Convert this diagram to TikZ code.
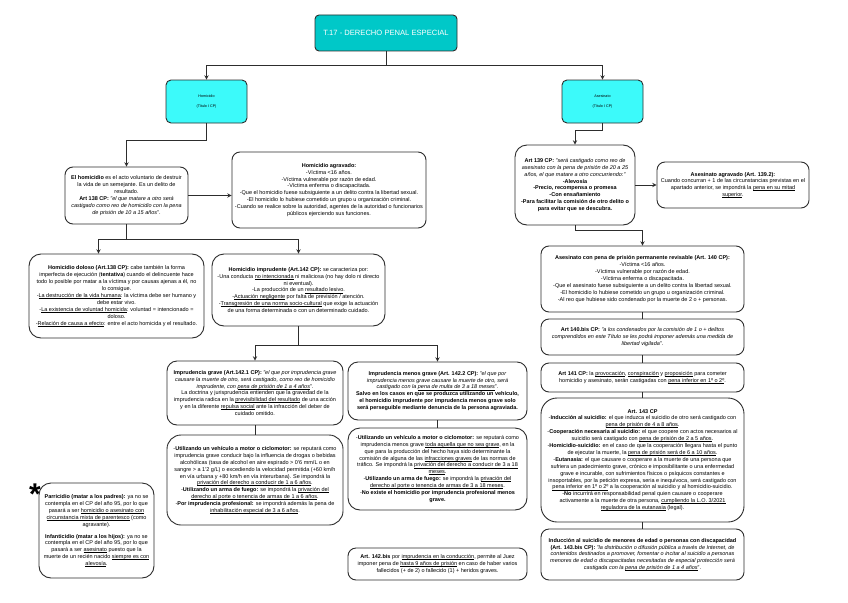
\documentclass[tikz,border=0pt]{standalone}
\usepackage{fontspec}
\setmainfont{Liberation Sans}
\usepackage{xcolor}
\usepackage{tikz}
\usetikzlibrary{arrows, calc}
\definecolor{titleteal}{RGB}{0,200,200}
\definecolor{topiccyan}{RGB}{60,250,250}
\definecolor{edgegray}{RGB}{45,45,45}
\newcommand{\txt}{\fontsize{5.5}{6.9}\selectfont}
% underline that follows the small text size
\newcommand{\ulin}[1]{\setbox0=\hbox{#1}\rlap{\rule[-0.9pt]{\wd0}{0.35pt}}\box0\relax}
\tikzstyle{note} = [rectangle, rounded corners=8pt, draw=edgegray, line width=0.9pt, fill=white, align=center, inner sep=1pt, font=\txt]
\tikzstyle{topic} = [rectangle, rounded corners=5pt, draw=edgegray, line width=0.9pt, fill=topiccyan, align=center, font=\fontsize{3.7}{10}\selectfont]
\tikzstyle{arrow} = [line width=0.9pt, draw=edgegray, ->, >=stealth]
\tikzstyle{link} = [line width=0.9pt, draw=edgegray]

\begin{document}
\begin{tikzpicture}[x=1pt, y=-1pt]
  \useasboundingbox[fill=white] (0,0) rectangle (848,602);

  % Title and topics
  \node (titulo) [topic, fill=titleteal, rounded corners=4pt, text=white, minimum width=142pt, minimum height=36pt, font=\fontsize{7.6}{9}\selectfont] at (386,33) {T.17 - DERECHO PENAL ESPECIAL};
  \node (homicidio) [topic, minimum width=81pt, minimum height=43pt] at (206.5,101.5) {Homicidio\\(Título I CP)};
  \node (asesinato) [topic, minimum width=81pt, minimum height=43pt] at (602.5,101.5) {Asesinato\\(Título I CP)};

  % Homicidio
  \node (definicion) [note, minimum width=123pt, minimum height=57pt] at (126.5,195.5) {\textbf{El homicidio} es el acto voluntario de destruir\\
    la vida de un semejante. Es un delito de\\
    resultado.\\
    \textbf{Art 138 CP:} \textit{"el que matare a otro será}\\
    \textit{castigado como reo de homicidio con la pena}\\
    \textit{de prisión de 10 a 15 años}".};
  \node (agravado) [note, minimum width=194pt, minimum height=76pt] at (329,190) {\textbf{Homicidio agravado:}\\
    -Víctima <16 años.\\
    -Víctima vulnerable por razón de edad.\\
    -Víctima enferma o discapacitada.\\
    -Que el homicidio fuese subsiguiente a un delito contra la libertad sexual.\\
    -El homicidio lo hubiese cometido un grupo u organización criminal.\\
    -Cuando se realice sobre la autoridad, agentes de la autoridad o funcionarios\\
    públicos ejerciendo sus funciones.};
  \node (doloso) [note, rounded corners=12pt, minimum width=175pt, minimum height=84pt] at (116.5,296) {\textbf{Homicidio doloso (Art.138 CP):} cabe también la forma\\
    imperfecta de ejecución (\textbf{tentativa}) cuando el delincuente hace\\
    todo lo posible por matar a la víctima y por causas ajenas a él, no\\
    lo consigue.\\
    -\ulin{La destrucción de la vida humana}: la víctima debe ser humano y\\
    debe estar vivo.\\
    -\ulin{La existencia de voluntad homicida}: voluntad = intencionado =\\
    doloso.\\
    -\ulin{Relación de causa a efecto}: entre el acto homicida y el resultado.};
  \node (imprudente) [note, rounded corners=12pt, minimum width=173pt, minimum height=72pt] at (298.5,290) {\textbf{Homicidio imprudente (Art.142 CP):} se caracteriza por:\\
    -Una conducta \ulin{no intencionada} ni maliciosa (no hay dolo ni directo\\
    ni eventual).\\
    -La producción de un \ulin{resultado lesivo}.\\
    -\ulin{Actuación negligente} por falta de previsión / atención.\\
    -\ulin{Transgresión de una norma socio-cultural} que exige la actuación\\
    de una forma determinada o con un determinado cuidado.};
  \node (grave) [note, rounded corners=10pt, minimum width=176pt, minimum height=64pt] at (255,393) {\textbf{Imprudencia grave (Art.142.1 CP):} \textit{"el que por imprudencia grave}\\
    \textit{causare la muerte de otro, será castigado, como reo de homicidio}\\
    \textit{imprudente, con \ulin{pena de prisión de 1 a 4 años}}".\\
    La doctrina y jurisprudencia entienden que la gravedad de la\\
    imprudencia radica en la \ulin{previsibilidad del resultado} de una acción\\
    y en la diferente \ulin{repulsa social} ante la infracción del deber de\\
    cuidado omitido.};
  \node (menosgrave) [note, rounded corners=10pt, minimum width=179pt, minimum height=58pt] at (437.5,391) {\textbf{Imprudencia menos grave (Art. 142.2 CP):} \textit{"el que por}\\
    \textit{imprudencia menos grave causare la muerte de otro, será}\\
    \textit{castigado con la \ulin{pena de multa de 3 a 18 meses}}".\\
    \textbf{Salvo en los casos en que se produzca utilizando un vehículo,}\\
    \textbf{el homicidio imprudente por imprudencia menos grave solo}\\
    \textbf{será perseguible mediante denuncia de la persona agraviada.}};
  \node (utilgrave) [note, rounded corners=14pt, minimum width=176pt, minimum height=90pt] at (255,480) {-\textbf{Utilizando un vehículo a motor o ciclomotor:} se reputará como\\
    imprudencia grave conducir bajo la influencia de drogas o bebidas\\
    alcohólicas (tasa de alcohol en aire espirado > 0'6 mm/L o en\\
    sangre > a 1'2 g/L) o excediendo la velocidad permitida (+60 km/h\\
    en vía urbana y +80 km/h en vía interurbana). Se impondrá la\\
    \ulin{privación del derecho a conducir de 1 a 6 años}.\\
    -\textbf{Utilizando un arma de fuego:} se impondrá la \ulin{privación del}\\
    \ulin{derecho al porte o tenencia de armas de 1 a 6 años}.\\
    -\textbf{Por imprudencia profesional:} se impondrá además la pena de\\
    \ulin{inhabilitación especial de 3 a 6 años}.};
  \node (utilmenos) [note, rounded corners=12pt, minimum width=179pt, minimum height=82pt] at (437.5,469) {-\textbf{Utilizando un vehículo a motor o ciclomotor:} se reputará como\\
    imprudencia menos grave \ulin{toda aquella que no sea grave}, en la\\
    que para la producción del hecho haya sido determinante la\\
    comisión de alguna de las \ulin{infracciones graves} de las normas de\\
    tráfico. Se impondrá la \ulin{privación del derecho a conducir de 3 a 18}\\
    \ulin{meses}.\\
    -\textbf{Utilizando un arma de fuego:} se impondrá la \ulin{privación del}\\
    \ulin{derecho al porte o tenencia de armas de 3 a 18 meses}.\\
    -\textbf{No existe el homicidio por imprudencia profesional menos}\\
    \textbf{grave.}};
  \node (art142bis) [note, minimum width=179pt, minimum height=32pt] at (437.5,564) {\textbf{Art. 142.bis} por \ulin{imprudencia en la conducción}, permite al Juez\\
    imponer pena de \ulin{hasta 9 años de prisión} en caso de haber varios\\
    fallecidos (+ de 2) o fallecido (1) + heridos graves.};

  % Parricidio e infanticidio
  \node (asterisco) [font=\fontsize{30}{30}\selectfont\bfseries] at (35,494) {*};
  \node (parricidio) [note, rounded corners=12pt, minimum width=115pt, minimum height=95pt] at (96.5,530.5) {\textbf{Parricidio (matar a los padres):} ya no se\\
    contempla en el CP del año 95, por lo que\\
    pasará a ser \ulin{homicidio o asesinato con}\\
    \ulin{circunstancia mixta de parentesco} (como\\
    agravante).\\[5pt]
    \textbf{Infanticidio (matar a los hijos):} ya no se\\
    contempla en el CP del año 95, por lo que\\
    pasará a ser \ulin{asesinato} puesto que la\\
    muerte de un recién nacido \ulin{siempre es con}\\
    \ulin{alevosía}.};

  % Asesinato
  \node (art139) [note, rounded corners=12pt, minimum width=120pt, minimum height=80pt] at (575,185) {\textbf{Art 139 CP:} \textit{"será castigado como reo de}\\
    \textit{asesinato con la pena de prisión de 20 a 25}\\
    \textit{años, el que matare a otro concurriendo:"}\\
    \textbf{-Alevosía}\\
    \textbf{-Precio, recompensa o promesa}\\
    \textbf{-Con ensañamiento}\\
    \textbf{-Para facilitar la comisión de otro delito o}\\
    \textbf{para evitar que se descubra.}};
  \node (asesinatoagravado) [note, minimum width=152pt, minimum height=46pt] at (733,185) {\textbf{Asesinato agravado (Art. 139.2):}\\
    Cuando concurran + 1 de las circunstancias previstas en el\\
    apartado anterior, se impondrá la \ulin{pena en su mitad}\\
    \ulin{superior}.};
  \node (art140) [note, minimum width=203pt, minimum height=66pt] at (642.5,279) {\textbf{Asesinato con pena de prisión permanente revisable (Art. 140 CP):}\\
    -Víctima <16 años.\\
    -Víctima vulnerable por razón de edad.\\
    -Víctima enferma o discapacitada.\\
    -Que el asesinato fuese subsiguiente a un delito contra la libertad sexual.\\
    -El homicidio lo hubiese cometido un grupo u organización criminal.\\
    -Al reo que hubiese sido condenado por la muerte de 2 o + personas.};
  \node (art140bis) [note, minimum width=203pt, minimum height=36pt] at (642.5,337) {\textbf{Art 140.bis CP:} \textit{"a los condenados por la comisión de 1 o + delitos}\\
    \textit{comprendidos en este Título se les podrá imponer además una medida de}\\
    \textit{libertad vigilada"}.};
  \node (art141) [note, minimum width=203pt, minimum height=29pt] at (642.5,377.5) {\textbf{Art 141 CP:} la \ulin{provocación}, \ulin{conspiración} y \ulin{proposición} para cometer\\
    homicidio y asesinato, serán castigadas con \ulin{pena inferior en 1º o 2º}.};
  \node (art143) [note, rounded corners=16pt, minimum width=203pt, minimum height=124pt] at (642.5,460) {\textbf{Art. 143 CP}\\
    -\textbf{Inducción al suicidio:} el que induzca el suicidio de otro será castigado con\\
    \ulin{pena de prisión de 4 a 8 años}.\\
    -\textbf{Cooperación necesaria al suicidio:} el que coopere con actos necesarios al\\
    suicidio será castigado con \ulin{pena de prisión de 2 a 5 años}.\\
    -\textbf{Homicidio-suicidio:} en el caso de que la cooperación llegara hasta el punto\\
    de ejecutar la muerte, la \ulin{pena de prisión será de 6 a 10 años}.\\
    -\textbf{Eutanasia:} el que causare o cooperare a la muerte de una persona que\\
    sufriera un padecimiento grave, crónico e imposibilitante o una enfermedad\\
    grave e incurable, con sufrimientos físicos o psíquicos constantes e\\
    insoportables, por la petición expresa, seria e inequívoca, será castigado con\\
    \ulin{pena inferior en 1º o 2º} a la cooperación al suicidio y al homicidio-suicidio.\\
    -\textbf{No} incurrirá en responsabilidad penal quien causare o cooperare\\
    activamente a la muerte de otra persona, \ulin{cumpliendo la L.O. 3/2021}\\
    \ulin{reguladora de la eutanasia} (legal).};
  \node (art143bis) [note, minimum width=203pt, minimum height=51pt] at (642.5,554.5) {\textbf{Inducción al suicidio de menores de edad o personas con discapacidad}\\
    \textbf{(Art. 143.bis CP):} \textit{"la distribución o difusión pública a través de Internet, de}\\
    \textit{contenidos destinados a promover, fomentar o incitar al suicidio a personas}\\
    \textit{menores de edad o discapacitadas necesitadas de especial protección será}\\
    \textit{castigada con la \ulin{pena de prisión de 1 a 4 años}}".};

  % Arrows
  \draw[arrow] (titulo.south) -- ++(0,14) -| (homicidio.north);
  \draw[arrow] (titulo.south) -- ++(0,14) -| (asesinato.north);
  \draw[arrow] (homicidio.south) -- ++(0,17) -| (definicion.north);
  \draw[arrow] (definicion.east) -- (definicion.east -| agravado.west);
  \draw[arrow] (definicion.south) -- ++(0,15) -| ([xshift=-18pt]doloso.north);
  \draw[arrow] (definicion.south) -- ++(0,15) -| (imprudente.north);
  \draw[arrow] (imprudente.south) -- ++(0,19) -| (grave.north);
  \draw[arrow] (imprudente.south) -- ++(0,19) -| (menosgrave.north);
  \draw[link] (grave.south) -- (utilgrave.north);
  \draw[link] (menosgrave.south) -- (utilmenos.north);

  \draw[arrow] (asesinato.south) -- ++(0,7) -| (art139.north);
  \draw[arrow] (art139.east) -- (asesinatoagravado.west);
  \draw[arrow] (art139.south) -- ++(0,5) -| (art140.north);
  \draw[link] (art140.south) -- (art140bis.north);
  \draw[link] (art140bis.south) -- (art141.north);
  \draw[link] (art141.south) -- (art143.north);
  \draw[link] (art143.south) -- (art143bis.north);
\end{tikzpicture}
\end{document}
